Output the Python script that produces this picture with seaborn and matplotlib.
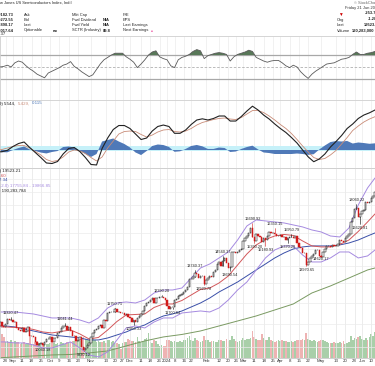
import numpy as np
import pandas as pd
import matplotlib
matplotlib.use("Agg")
import matplotlib.pyplot as plt
from matplotlib.ticker import NullFormatter, NullLocator, FixedLocator
import seaborn as sns

sns.set_theme(style="white")
plt.rcParams['font.family'] = ['Liberation Sans', 'DejaVu Sans']

# ---------------- data ----------------
holidays = ['2023-09-04', '2023-11-23', '2023-12-25', '2024-01-01', '2024-01-15',
            '2024-02-19', '2024-03-29', '2024-05-27']

close = [
    10727, 10906, 11087, 10906, 10862,
    10996, 11225, 11179, 11179, 11087,
    11087, 10816, 10727, 10683,
    10816, 10640, 10683, 10862, 10465,
    10465, 10422, 10209, 10083, 10125,
    10167, 10083, 10209, 10335, 10335,
    10422, 10209, 10378, 10378, 10596,
    10640, 10816, 10906, 10906, 10727,
    10862, 10683, 10465, 10465, 10251,
    10293, 10422, 10001, 9877, 9958,
    10083, 10167, 10422, 10596, 10727,
    10771, 10906, 10951, 10816, 11179,
    11133, 11507, 11554, 11554, 11554,
    11699, 11554, 11554, 11507,
    11507, 11413, 11460, 11320, 11273,
    11087, 11179, 11087, 11273, 11366,
    11460, 11603, 11845, 11992, 12042,
    12142, 12242, 11992, 12242, 12242,
    12293, 12293, 12242, 12142,
    11845, 11699, 11796, 11796,
    12142, 12192, 12344, 12395, 12446,
    12550, 12654, 12810, 13242,
    13242, 13352, 13575, 13519, 13297,
    13408, 13408, 12972, 13188, 13297,
    13408, 13352, 13631, 13745, 14089,
    14207, 13974, 14266, 14444, 14148,
    13858, 13916, 14805, 14805, 14744,
    14805, 14929, 14990, 15494,
    15686, 15816, 16016, 16352, 15751,
    15494, 15949, 15816, 15751, 15430,
    15686, 15558, 15816, 16082, 16016,
    16016, 15949, 15816, 15816,
    15883, 15751, 15751, 15558, 15686,
    15751, 15751, 15686, 15816, 15367,
    15116, 15054, 14744, 14744, 14031,
    14207, 14444, 14564, 14684, 14929,
    14929, 14564, 14504, 14805, 14990,
    15179, 15179, 15116, 15241, 15179,
    15179, 15304, 15558, 15494, 15430,
    15686, 15816, 15949, 16760, 17037,
    17685, 17757, 17110, 17324,
    17539, 17612, 18206, 18131, 18206,
    18508, 18661, 18969]

volume_m = [
    170, 165, 180, 230, 200,
    150, 160, 155, 170, 140,
    160, 150, 155, 135,
    140, 150, 130, 140, 220,
    130, 135, 150, 160, 140,
    125, 130, 140, 130, 135,
    140, 150, 140, 130, 145,
    130, 150, 140, 135, 150,
    145, 150, 160, 165, 175,
    160, 165, 190, 200, 180,
    170, 175, 185, 190, 170,
    150, 160, 155, 150, 165,
    140, 170, 175, 150, 165,
    140, 145, 130, 90,
    140, 150, 150, 180, 170,
    165, 160, 150, 200, 160,
    155, 165, 180, 190, 240,
    150, 145, 170, 160, 130,
    120, 125, 120, 120,
    170, 175, 160, 150,
    160, 155, 150, 165, 150,
    170, 175, 190, 210,
    170, 165, 190, 175, 160,
    155, 165, 210, 175, 170,
    150, 160, 165, 155, 150,
    170, 175, 165, 160, 180,
    160, 175, 215, 185, 165,
    155, 160, 170, 190,
    175, 185, 180, 190, 260,
    200, 180, 170, 175, 230,
    190, 175, 170, 200, 175,
    160, 155, 165, 170,
    165, 170, 160, 165, 155,
    150, 160, 155, 165, 170,
    175, 170, 180, 175, 240,
    185, 170, 165, 175, 165,
    150, 165, 170, 175, 160,
    150, 145, 140, 145, 150,
    145, 140, 150, 140, 165,
    135, 140, 150, 210, 175,
    190, 185, 205, 215,
    180, 170, 195, 170, 205,
    230, 210, 250]

# overlays sampled every 5 sessions (last = final session)
line_days = list(range(0, 201, 5)) + [204]
bb_upper = [11554, 11554, 11554, 11507, 11460, 11366, 11273, 11273, 11273, 11179,
            11041, 11273, 11748, 11992, 12042, 11992, 12142, 12498, 12654, 12654,
            12758, 13297, 13858, 14089, 14444, 14805, 15558, 16485, 16899, 16830,
            16760, 16691, 16554, 16418, 16215, 16082, 15816, 15751, 16352, 17981,
            19288, 20098]
bb_lower = [10209, 10209, 10167, 10167, 10083, 9958, 9958, 10083, 10209, 9958,
            9675, 9596, 9796, 10293, 10816, 10906, 10816, 11087, 11273, 11273,
            11507, 11554, 11603, 11554, 11748, 12142, 12654, 13079, 13745, 14444,
            14929, 15179, 15179, 14623, 14207, 14207, 14444, 14805, 14805, 14444,
            14564, 14929]
ma20 = [10862, 10862, 10840, 10816, 10750, 10640, 10596, 10662, 10727, 10552,
        10335, 10400, 10727, 11110, 11413, 11436, 11460, 11772, 11943, 11943,
        12117, 12395, 12680, 12758, 13025, 13408, 14031, 14684, 15241, 15590,
        15816, 15916, 15850, 15494, 15179, 15116, 15116, 15272, 15558, 16115,
        16760, 17324]
ma50 = [10906, 10906, 10862, 10771, 10683, 10596, 10508, 10465, 10422, 10378,
        10293, 10293, 10378, 10508, 10640, 10816, 10951, 11179, 11366, 11460,
        11603, 11796, 11992, 12242, 12550, 12810, 13079, 13408, 13745, 14089,
        14444, 14744, 14990, 15116, 15179, 15179, 15179, 15241, 15367, 15558,
        15816, 16016]
ma200_days = list(range(0, 201, 10)) + [204]
ma200 = [9556, 9596, 9635, 9675, 9695, 9756, 9836, 10042, 10251, 10422,
         10530, 10683, 10906, 11133, 11366, 11651, 11943, 12498, 12866, 13297,
         13745, 13858]

rsi_days = list(range(0, 205, 2))
rsi = [50, 50, 51, 53, 50, 57, 60, 58, 52, 47, 43, 38, 35, 32, 40, 43, 46, 49, 53, 55,
       59, 51, 47, 42, 38, 34, 37, 46, 55, 62, 66, 70, 73, 73, 73, 67, 63, 58, 49, 55,
       62, 70, 75, 77, 67, 64, 62, 52, 49, 62, 66, 68, 71, 76, 79, 77, 64, 69, 71, 73,
       74, 73, 71, 60, 67, 71, 73, 75, 78, 76, 66, 63, 60, 58, 60, 61, 61, 57, 52, 49,
       53, 50, 42, 36, 31, 38, 43, 47, 51, 55, 56, 57, 60, 63, 64, 66, 71, 75, 71, 71,
       73, 74, 76]

ppo_days = list(range(0, 205, 3))
ppo = [-0.29, -0.25, -0.04, 0.51, 0.94, 1.16, 0.36, -0.36, -1.09, -1.88, -1.96, -1.67,
       -0.58, 0.22, 0.36, -0.22, -1.09, -2.10, -2.17, 0.22, 1.74, 2.97, 3.55, 3.55,
       3.12, 2.32, 1.52, 1.74, 2.75, 3.41, 3.62, 3.41, 2.42, 2.42, 2.90, 3.70, 4.35,
       4.52, 4.35, 4.57, 4.93, 4.93, 4.20, 4.20, 4.86, 5.65, 6.35, 5.80, 5.07, 4.49,
       3.77, 3.12, 2.54, 1.81, 1.01, 0.00, -0.99, -1.70, -1.30, -0.58, 0.43, 1.23,
       2.10, 3.12, 3.77, 4.57, 5.07, 5.39, 5.80]
ppo_signal = [-0.07, 0.07, 0.29, 0.51, 0.65, 0.65, 0.29, -0.22, -0.72, -1.38, -1.67,
              -1.52, -1.01, -0.29, 0.00, -0.14, -0.51, -1.09, -1.59, -1.01, 0.29, 1.30,
              2.32, 2.68, 2.75, 2.68, 2.25, 1.88, 2.17, 2.61, 2.90, 2.97, 2.68, 2.61,
              2.75, 3.12, 3.62, 3.99, 4.20, 4.42, 4.57, 4.64, 4.49, 4.42, 4.71, 5.22,
              5.72, 5.72, 5.43, 4.93, 4.35, 3.70, 3.12, 2.39, 1.52, 0.58, -0.29, -1.09,
              -1.38, -1.23, -0.72, -0.07, 0.87, 1.81, 2.83, 3.48, 4.06, 4.49, 4.83]

# labelled highs / lows: session, value, above/below
ann_days = [8, 25, 37, 47, 64, 74, 89, 95, 107, 112, 122, 126, 138, 139, 145, 150,
            159, 157, 167, 175, 194, 196]
ann_vals = [11320.47, 10040.18, 11041.44, 9830.12, 11750.71, 10950.33, 12390.20,
            11700.64, 13740.37, 12920.78, 14560.37, 13690.54, 16690.92, 15390.20,
            15180.93, 16350.15, 15950.79, 15370.20, 13970.65, 14620.17, 18060.22,
            16620.81]
ann_pos = ['a', 'b', 'a', 'b', 'a', 'b', 'a', 'b', 'a', 'b', 'a', 'b', 'a', 'b', 'b',
           'a', 'a', 'b', 'b', 'b', 'a', 'b']

# ---------------- layout helpers ----------------
W, H = 375, 366
fig = plt.figure(figsize=(W / 100, H / 100), dpi=100)
fig.patch.set_facecolor('white')


def rect(x0, y0, x1, y1):
    return [x0 / W, 1 - y1 / H, (x1 - x0) / W, (y1 - y0) / H]


dates = pd.bdate_range('2023-08-21', '2024-06-12')
dates = dates[~dates.isin(pd.to_datetime(holidays))][:len(close)]
n = len(dates)
idx = np.arange(n)
c = np.array(close, dtype=float)
o = np.r_[c[0], c[:-1]]
XL = (2.0, 204.0)

# date ticks: month name on first session of month, weekly day numbers otherwise
month_first = [i for i in range(1, n) if dates[i].month != dates[i - 1].month]
week_first = [i for i in range(n) if i == 0 or dates[i].weekday() < dates[i - 1].weekday()]
ticks, labels = [], []
for i in sorted(set(month_first) | set(week_first)):
    d = dates[i]
    if i in month_first:
        ticks.append(i)
        labels.append(str(d.year) if d.month == 1 else d.strftime('%b'))
    elif min(abs(i - m) for m in month_first) > 3:
        ticks.append(i)
        labels.append(str(d.day))

GRID = '#ebebeb'
SP = '#cfcfcf'
FS = 3.2
HF = 2.9


def style(ax):
    ax.set_xlim(*XL)
    ax.xaxis.set_major_locator(FixedLocator(ticks))
    ax.set_xticklabels([])
    ax.tick_params(length=0, labelsize=FS, pad=1)
    ax.yaxis.set_major_locator(NullLocator())
    ax.yaxis.set_minor_locator(NullLocator())
    ax.grid(axis='x', color=GRID, lw=0.5)
    for s in ax.spines.values():
        s.set_color(SP)
        s.set_linewidth(0.6)
    ax.set_xlabel('')
    ax.set_ylabel('')


# ---------------- RSI panel ----------------
ax_r = fig.add_axes(rect(0, 36, 375, 100))
ax_r.set_facecolor('white')
rsi_a = np.array(rsi, float)
ax_r.fill_between(rsi_days, rsi_a, 70, where=rsi_a > 70, interpolate=True,
                  color='#587858', lw=0, zorder=2)
ax_r.axhline(70, color='#a8a8a8', lw=0.9, zorder=1)
ax_r.axhline(30, color='#a8a8a8', lw=0.9, zorder=1)
ax_r.axhline(50, color='#b0b0b0', lw=0.6, ls=(0, (3, 2)), zorder=1)
sns.lineplot(x=rsi_days, y=rsi, ax=ax_r, color='#5a5a5a', lw=0.6, zorder=3)
ax_r.set_ylim(-5, 101.7)
style(ax_r)

# ---------------- PPO panel ----------------
ax_m = fig.add_axes(rect(0, 100, 375, 168))
ppo_a, sig_a = np.array(ppo), np.array(ppo_signal)
ax_m.axhspan(-0.14, 0.62, color='#c6f1f9', lw=0, zorder=1)
ax_m.fill_between(ppo_days, ppo_a - sig_a, 0, color='#4f79b8', lw=0, zorder=2)
sns.lineplot(x=ppo_days, y=ppo_signal, ax=ax_m, color='#c98c78', lw=0.6, zorder=3)
sns.lineplot(x=ppo_days, y=ppo, ax=ax_m, color='#222222', lw=0.8, zorder=4)
ax_m.set_ylim(-2.61, 7.25)
style(ax_m)

# ---------------- price panel ----------------
pr = rect(0, 168, 375, 358)
ax_v = fig.add_axes(pr)
vol = np.array(volume_m, float)
up = c >= o
ax_v.bar(idx[up], vol[up], width=0.9, color='#8cc08c', alpha=0.75, lw=0)
ax_v.bar(idx[~up], vol[~up], width=0.9, color='#e99a9a', alpha=0.75, lw=0)
ax_v.set_ylim(0, 1824)
style(ax_v)

ax_p = fig.add_axes(pr)
ax_p.patch.set_alpha(0)
ax_p.set_yscale('log')
for lvl in range(10000, 21000, 1000):
    ax_p.axhline(lvl, color=GRID, lw=0.5, zorder=0)
sns.lineplot(x=ma200_days, y=ma200, ax=ax_p, color='#7a9a62', lw=0.7)
sns.lineplot(x=line_days, y=ma50, ax=ax_p, color='#3a4fa8', lw=0.7)
sns.lineplot(x=line_days, y=bb_upper, ax=ax_p, color='#a58ae0', lw=0.7)
sns.lineplot(x=line_days, y=bb_lower, ax=ax_p, color='#a58ae0', lw=0.7)
sns.lineplot(x=line_days, y=ma20, ax=ax_p, color='#d2575a', lw=0.7)
# wicks to the labelled extremes
for d, v in zip(ann_days, ann_vals):
    ax_p.plot([d, d], [min(o[d], c[d], v), max(o[d], c[d], v)],
              color='#d11a1a' if c[d] < o[d] else 'black', lw=0.4, zorder=4)
ax_p.bar(idx[up], (c - o)[up] + 8, bottom=o[up], width=0.75, color='white',
         edgecolor='black', lw=0.35, zorder=5)
ax_p.bar(idx[~up], (o - c)[~up] + 8, bottom=c[~up], width=0.75, color='#d11a1a',
         edgecolor='#d11a1a', lw=0.35, zorder=5)
for d, v, p in zip(ann_days, ann_vals, ann_pos):
    ax_p.annotate(f'{v:.2f}', (d, v), xytext=(0, 1.5 if p == 'a' else -1.5),
                  textcoords='offset points', ha='center',
                  va='bottom' if p == 'a' else 'top', fontsize=2.8, color='#222', zorder=6)
ax_p.set_ylim(9554, 20944)
style(ax_p)
ax_p.yaxis.set_minor_formatter(NullFormatter())
ax_p.set_xticklabels(labels)
for t in ax_p.get_xticklabels():
    t.set_color('#333')

# ---------------- text header ----------------
def T(x, y, s, **kw):
    kw.setdefault('fontsize', HF)
    kw.setdefault('color', '#222')
    fig.text(x / W, 1 - y / H, s, va='center', **kw)

T(-5, 3, 'Dow Jones US Semiconductors Index, Ind:I')
rows = [15, 20, 25, 30.5]
for y, v in zip(rows, ['19182.73', '19272.55', '18898.17', '19017.64']):
    T(13.5, y, v, ha='right', fontweight='bold')
for y, s in zip(rows, ['Ask', 'Bid', 'Last', 'Optionable']):
    T(24, y, s)
T(53, rows[3], 'no', fontweight='bold')
for y, s in zip(rows, ['Mkt Cap', 'Fwd Dividend', 'Fwd Yield', 'SCTR (Industry)']):
    T(72, y, s)
for y, s in zip(rows[1:], ['N/A', 'N/A', '89.8']):
    T(103, y, s, fontweight='bold')
for y, s in zip(rows, ['P/E', 'EPS', 'Last Earnings', 'Next Earnings']):
    T(123, y, s)
T(151, rows[3], '\u25a0', color='#f06fb0', fontsize=2.3)
T(354, 3, '\u00a9 StockCharts.com', color='#666')
T(345, 8.5, 'Friday 21 Jun 2024', color='#333')
T(338, 14, '\u25bc', color='#cc0000', fontsize=3.4)
T(365, 13.5, '-253.71', fontweight='bold')
T(337, 19.5, 'Chg')
T(368, 19.5, '-1.28%', fontweight='bold')
T(337, 25, 'Last')
T(364, 25, '19523.21', fontweight='bold')
T(337, 30.5, 'Volume')
T(352, 30.5, '190,283,000', fontweight='bold')
T(-22, 34.5, 'RSI(14) 63.37', fontsize=FS)
T(-23, 103.5, 'PPO(12,26,9)', fontsize=FS)
T(4, 103.5, '5.544,', color='#222', fontsize=FS)
T(18, 103.5, '5.429,', color='#c98c78', fontsize=FS)
T(32, 103.5, '0.115', color='#4f79b8', fontsize=FS)
T(-33, 171, '$DJUSSC (Daily) 19523.21', fontsize=FS)
T(-28, 175.5, 'MA(20) 17983.60', color='#d2575a', fontsize=FS)
T(-26, 180, 'MA(50) 16117.34', color='#3a4fa8', fontsize=FS)
T(-12, 186, 'BB(20,2.0) 17755.84 - 19866.85', color='#a58ae0', fontsize=FS)
T(-14, 190.5, 'Volume 190,283,784', fontsize=FS)

fig.savefig('out.png', dpi=100)
